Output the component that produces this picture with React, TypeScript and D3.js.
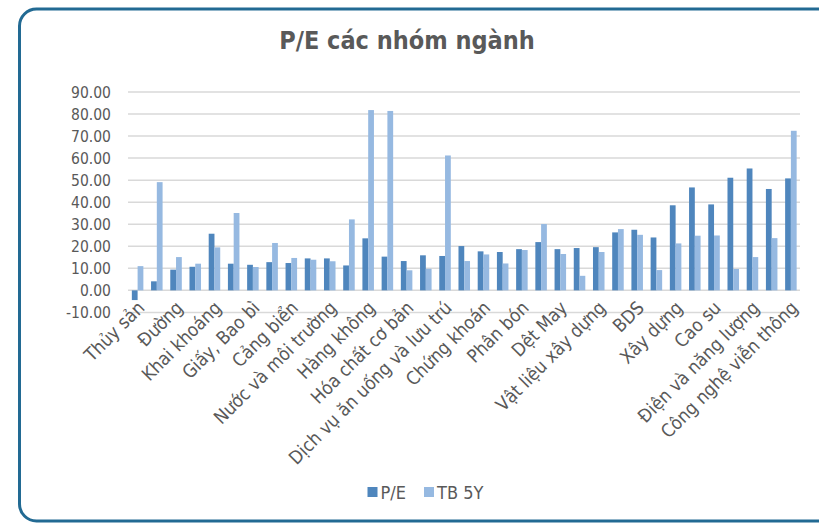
import React from "react";
import * as d3 from "d3";

const categories: string[] = [
  "Thủy sản", "", "Đường", "", "Khai khoáng", "", "Giấy, Bao bì", "", "Cảng biển", "",
  "Nước và môi trường", "", "Hàng không", "", "Hóa chất cơ bản", "", "Dịch vụ ăn uống và lưu trú", "",
  "Chứng khoán", "", "Phân bón", "", "Dệt May", "", "Vật liệu xây dựng", "", "BDS", "",
  "Xây dựng", "", "Cao su", "", "Điện và năng lượng", "", "Công nghệ viễn thông",
];

const peValues: number[] = [
  -4.4, 4.1, 9.4, 10.7, 25.7, 12.1, 11.6, 12.8, 12.4, 14.5,
  14.5, 11.3, 23.6, 15.3, 13.3, 15.9, 15.6, 20.1, 17.7, 17.4,
  18.7, 21.9, 18.7, 19.2, 19.6, 26.3, 27.5, 24.0, 38.6, 46.7,
  39.0, 51.1, 55.3, 46.0, 50.8,
];

const tb5yValues: number[] = [
  11.0, 49.1, 15.1, 12.1, 19.5, 35.1, 10.6, 21.5, 14.7, 13.9,
  13.2, 32.2, 81.8, 81.4, 9.1, 9.8, 61.2, 13.3, 16.3, 12.2,
  18.3, 30.1, 16.5, 6.6, 17.4, 27.8, 25.2, 9.2, 21.3, 24.8,
  24.9, 9.7, 15.1, 23.7, 72.4,
];

const yTicks: number[] = [-10, 0, 10, 20, 30, 40, 50, 60, 70, 80, 90];
const seriesNames: string[] = ["P/E", "TB 5Y"];
const seriesColors: string[] = ["#4f86bd", "#96b9e1"];

const W = 819;
const H = 525;
const textColor = "#595959";
const font = "'DejaVu Sans Condensed', 'DejaVu Sans', sans-serif";

export default function App() {
  const x = d3
    .scaleBand<number>()
    .domain(d3.range(categories.length))
    .range([128, 800.5])
    .paddingInner(0.4)
    .paddingOuter(0.2);
  const xs = d3.scaleBand<string>().domain(seriesNames).range([0, x.bandwidth()]);
  const y = d3.scaleLinear().domain([-10, 90]).range([312.4, 92]);
  const series = [peValues, tb5yValues];
  const fmt = (t: number) => d3.format(".2f")(t).replace("\u2212", "-");

  return (
    <svg
      width={W}
      height={H}
      style={{ position: "absolute", left: 0, top: 0, background: "#fff" }}
    >
      <rect x={19.5} y={9} width={830} height={512} rx={17} ry={17} fill="#fff" stroke="#226a93" strokeWidth={3} />
      <text
        x={407}
        y={49}
        textAnchor="middle"
        fontFamily={font}
        fontStretch="condensed"
        fontWeight="bold"
        fontSize={25}
        fill={textColor}
      >
        P/E các nhóm ngành
      </text>
      {yTicks.map((t) => (
        <g key={t}>
          <line x1={128} x2={800} y1={y(t)} y2={y(t)} stroke="#d9d9d9" strokeWidth={1.5} />
          <text x={111} y={y(t)} dy="0.36em" textAnchor="end" fontFamily={font} fontStretch="condensed" fontSize={15.5} fill={textColor}>
            {fmt(t)}
          </text>
        </g>
      ))}
      {series.map((vals, si) =>
        vals.map((v, i) => (
          <rect
            key={si + "-" + i}
            x={(x(i) as number) + (xs(seriesNames[si]) as number)}
            y={y(Math.max(0, v))}
            width={xs.bandwidth()}
            height={Math.abs(y(v) - y(0))}
            fill={seriesColors[si]}
          />
        ))
      )}
      {categories.map((c, i) =>
        c ? (
          <text
            key={"l" + i}
            transform={`translate(${(x(i) as number) + x.bandwidth() / 2 + 8},${309}) rotate(-45)`}
            textAnchor="end"
            fontFamily={font}
            fontStretch="condensed"
            fontSize={18.5}
            fill={textColor}
          >
            {c}
          </text>
        ) : null
      )}
      {seriesNames.map((s, i) => {
        const lx = [367.5, 424][i];
        return (
          <g key={s}>
            <rect x={lx} y={487} width={10} height={10} fill={seriesColors[i]} />
            <text x={lx + 13} y={498.5} fontFamily={font} fontStretch="condensed" fontSize={18} fill={textColor}>
              {s}
            </text>
          </g>
        );
      })}
    </svg>
  );
}
